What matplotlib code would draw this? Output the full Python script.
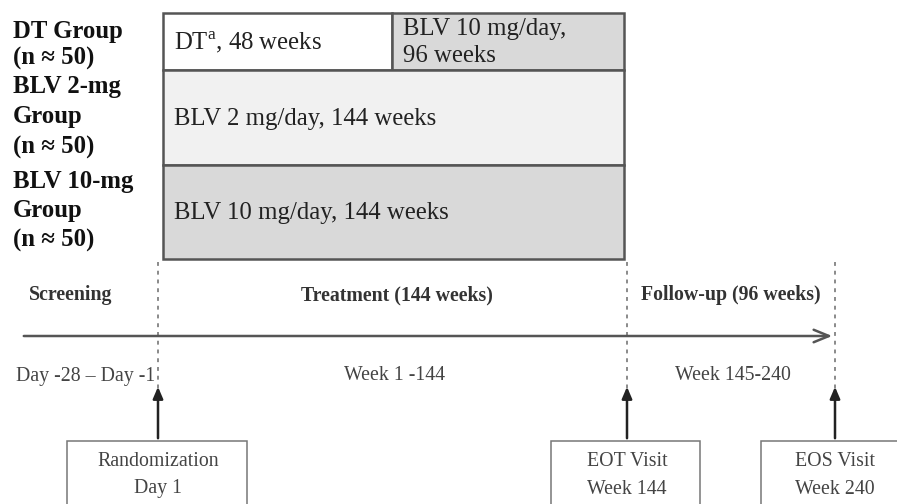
"""Study design schematic: DT vs BLV 2 mg vs BLV 10 mg, 144-week treatment + follow-up."""

import matplotlib.pyplot as plt
from matplotlib.patches import Rectangle

plt.rcParams["mathtext.fontset"] = "custom"
plt.rcParams["mathtext.rm"] = "Liberation Serif"

# ---- content ----
group_labels = ["DT Group\n(n \u2248 50)", "BLV 2-mg\nGroup\n(n \u2248 50)", "BLV 10-mg\nGroup\n(n \u2248 50)"]
arm_texts = [
    ["DT$^{\\mathrm{a}}$, 48 weeks", "BLV 10 mg/day,\n96 weeks"],
    ["BLV 2 mg/day, 144 weeks"],
    ["BLV 10 mg/day, 144 weeks"],
]
arm_fills = [["#ffffff", "#d9d9d9"], ["#f1f1f1"], ["#d9d9d9"]]
phase_names = ["Screening", "Treatment (144 weeks)", "Follow-up (96 weeks)"]
phase_periods = ["Day -28 \u2013 Day -1", "Week 1 -144", "Week 145-240"]
visit_names = ["Randomization", "EOT Visit", "EOS Visit"]
visit_times = ["Day 1", "Week 144", "Week 240"]

# ---- layout (pixel coordinates, y grows downward) ----
W, H = 897, 504
box_left, box_right = 163, 624
row_edges = [13, 70, 165, 259]
dt_split = 392
milestone_x = [158, 627, 835]
phase_x = [71, 397, 731]
period_x = [86, 394, 733]
visit_box = [(67, 247), (551, 700), (761, 910)]
group_y = [45, 117, 211]
group_spacing = [1.23, 1.40, 1.37]

SERIF = ["Liberation Serif", "DejaVu Serif"]
EDGE = "#555555"
TXT = "#222222"

fig = plt.figure(figsize=(W / 100, H / 100), dpi=100)
ax = fig.add_axes([0, 0, 1, 1])
ax.set_xlim(0, W)
ax.set_ylim(H, 0)
ax.axis("off")

# group labels
for lab, y, ls in zip(group_labels, group_y, group_spacing):
    ax.text(13, y, lab, family=SERIF, fontsize=17.8, fontweight="bold", color="#111111",
            ha="left", va="center", linespacing=ls)

# arm boxes
for i, (texts, fills) in enumerate(zip(arm_texts, arm_fills)):
    y0, y1 = row_edges[i], row_edges[i + 1]
    if len(texts) == 2:
        xs = [(box_left, dt_split), (dt_split, box_right)]
    else:
        xs = [(box_left, box_right)]
    for (x0, x1), t, fc in zip(xs, texts, fills):
        ax.add_patch(Rectangle((x0, y0), x1 - x0, y1 - y0, facecolor=fc, edgecolor=EDGE, lw=1.8))
        ax.text(x0 + 11, (y0 + y1) / 2 + 1, t, family=SERIF, fontsize=17.8, color=TXT,
                ha="left", va="center", linespacing=1.3)

# dotted milestone lines
for x in milestone_x:
    ax.plot([x, x], [262, 392], ls=(0, (2, 2.5)), color="#8a8a8a", lw=1.4)

# timeline arrow
ax.annotate("", xy=(milestone_x[2], 336), xytext=(21, 336),
            arrowprops=dict(arrowstyle="->,head_length=1.1,head_width=0.45", color="#555555", lw=1.8))

# phase names and periods
for name, period, px, qx in zip(phase_names, phase_periods, phase_x, period_x):
    ax.text(px, 295, name, family=SERIF, fontsize=14.3, fontweight="bold", color="#333333",
            ha="center", va="center")
    ax.text(qx, 376, period, family=SERIF, fontsize=14.3, color="#444444", ha="center", va="center")

# visit boxes with arrows
for x, (bx0, bx1), name, t in zip(milestone_x, visit_box, visit_names, visit_times):
    ax.annotate("", xy=(x, 384), xytext=(x, 441),
                arrowprops=dict(arrowstyle="-|>,head_length=0.7,head_width=0.3", color="#222222", lw=1.8))
    ax.add_patch(Rectangle((bx0, 441), bx1 - bx0, 80, facecolor="white", edgecolor="#777777", lw=1.1))
    ax.text(x, 462, name, family=SERIF, fontsize=14.3, color="#444444", ha="center", va="center")
    ax.text(x, 489, t, family=SERIF, fontsize=14.3, color="#444444", ha="center", va="center")

fig.savefig("out.png", dpi=100)
